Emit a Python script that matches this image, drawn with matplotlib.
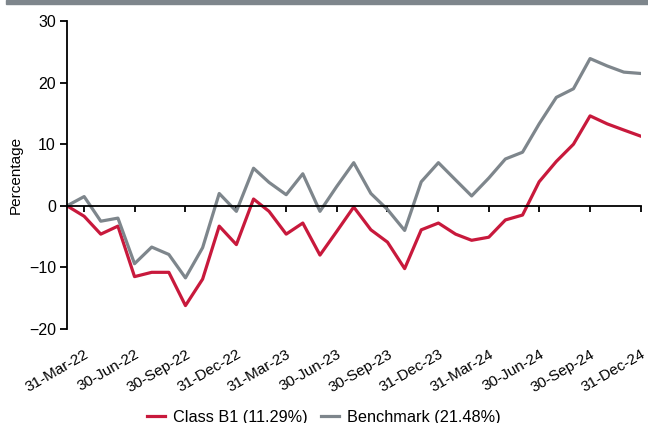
import matplotlib
matplotlib.use('Agg')
import matplotlib.pyplot as plt
import matplotlib.dates as mdates
from matplotlib.patches import Rectangle
import pandas as pd

plt.rcParams['font.family'] = ['Liberation Sans', 'DejaVu Sans']

# month-end dates, Feb-22 .. Dec-24
dates = pd.date_range('2022-02-28', periods=35, freq='ME')

class_b1 = [0.0, -1.7, -4.6, -3.3, -11.5, -10.8, -10.8, -16.2, -11.9, -3.3,
            -6.3, 1.1, -0.9, -4.6, -2.8, -8.0, -4.2, -0.2, -3.9, -5.9,
            -10.2, -3.9, -2.8, -4.6, -5.6, -5.1, -2.3, -1.5, 3.9, 7.2,
            10.0, 14.6, 13.3, 12.3, 11.29]
benchmark = [0.0, 1.5, -2.5, -2.0, -9.4, -6.7, -7.9, -11.7, -6.8, 2.0,
             -0.9, 6.1, 3.8, 1.8, 5.2, -0.9, 3.1, 7.0, 2.0, -0.6,
             -4.0, 3.9, 7.0, 4.2, 1.6, 4.5, 7.6, 8.7, 13.3, 17.6,
             19.0, 23.9, 22.7, 21.7, 21.48]

red = '#c8193c'
grey = '#7e868c'

fig = plt.figure(figsize=(6.48, 4.23), dpi=100)
ax = fig.add_axes([67/648, 1-329/423, (641-67)/648, (329-21)/423])

ax.plot(dates, class_b1, color=red, lw=2.3, label='Class B1 (11.29%)')
ax.plot(dates, benchmark, color=grey, lw=2.3, label='Benchmark (21.48%)')

ax.set_xlim(dates[0], dates[-1])
ax.set_ylim(-20, 30)
ax.set_yticks([-20, -10, 0, 10, 20, 30])
ax.set_ylabel('Percentage', fontsize=11, labelpad=4)

for s in ['top', 'right']:
    ax.spines[s].set_visible(False)
ax.spines['left'].set_linewidth(1.3)
ax.spines['bottom'].set_position(('data', 0))
ax.spines['bottom'].set_linewidth(1.3)

qticks = dates[1::3]
ax.set_xticks(qticks)
ax.tick_params(axis='x', direction='out', length=4, width=1.3, labelbottom=False)
ax.tick_params(axis='y', direction='out', length=5, width=1.3, labelsize=11.5, pad=3)

sec = ax.secondary_xaxis('bottom')
sec.set_xticks(qticks)
sec.xaxis.set_major_formatter(mdates.DateFormatter('%d-%b-%y'))
sec.spines['bottom'].set_visible(False)
sec.tick_params(length=0, pad=13, labelsize=11)
for lab in sec.get_xticklabels():
    lab.set_rotation(30)
    lab.set_ha('right')
    lab.set_rotation_mode('anchor')

# grey band at the top
fig.patches.append(Rectangle((6/648, 1-4/423), 1, 4/423, transform=fig.transFigure,
                             color=grey, zorder=0))

fig.legend(loc='center', bbox_to_anchor=(0.5, 1-417/423), ncol=2, frameon=False,
           fontsize=11.7, handlelength=1.1, handletextpad=0.5, columnspacing=0.8)

fig.savefig('out.png', dpi=100)
